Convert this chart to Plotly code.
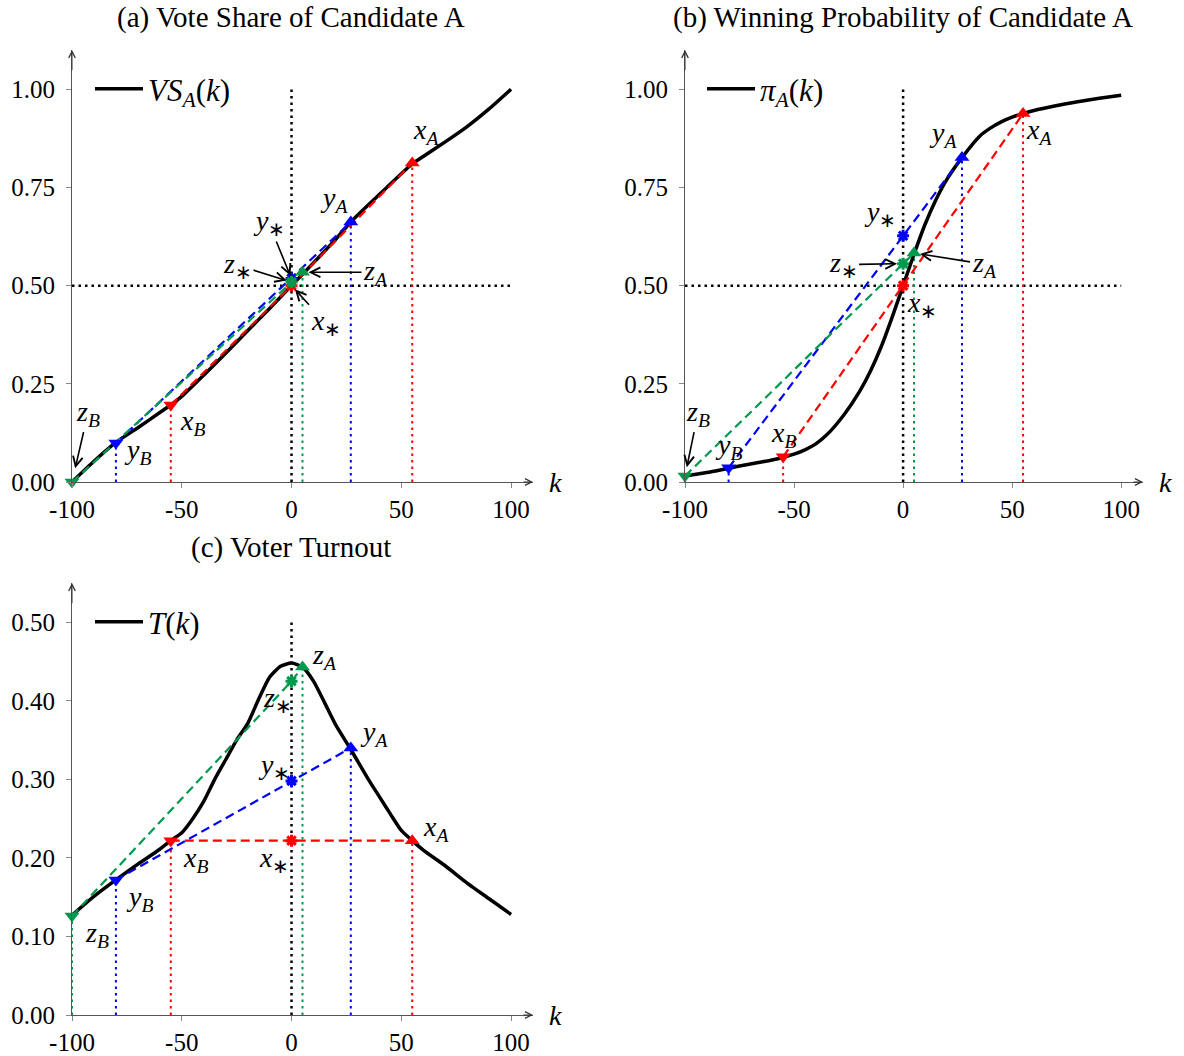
import plotly.graph_objects as go

# ---------------- data ----------------
k_ticks = [-100, -50, 0, 50, 100]
k_tick_labels = ["-100", "-50", "0", "50", "100"]
share_ticks = [0.0, 0.25, 0.5, 0.75, 1.0]
turnout_ticks = [0.0, 0.1, 0.2, 0.3, 0.4, 0.5]

k_vs = [-100, -90, -80, -70, -60, -55, -50, -40, -30, -20, -10, 0, 10, 20, 27, 40, 50, 55, 60, 70, 80, 90, 100]
vs_curve = [0.0, 0.053, 0.101, 0.138, 0.177, 0.196, 0.218, 0.272, 0.328, 0.385, 0.442, 0.5,
            0.558, 0.617, 0.662, 0.732, 0.785, 0.81, 0.829, 0.866, 0.905, 0.95, 1.0]

k_pi = [-100, -90, -80, -70, -60, -55, -50, -45, -40, -35, -27, -20, -15, -10, -5, 0,
        5, 10, 15, 20, 27, 35, 40, 45, 50, 55, 60, 70, 80, 90, 100]
pi_curve = [0.015, 0.024, 0.035, 0.046, 0.056, 0.063, 0.071, 0.082, 0.097, 0.12, 0.172, 0.23,
            0.282, 0.345, 0.42, 0.5, 0.58, 0.655, 0.718, 0.77, 0.826, 0.88, 0.901, 0.917, 0.929,
            0.938, 0.946, 0.958, 0.968, 0.977, 0.985]

k_t = [-100, -90, -80, -70, -60, -55, -50, -45, -40, -35, -30, -25, -20, -15, -10, -5, 0, 5, 10, 15,
       20, 27, 35, 40, 45, 50, 55, 60, 70, 80, 90, 100]
t_curve = [0.127, 0.151, 0.172, 0.192, 0.211, 0.222, 0.232, 0.25, 0.272, 0.30, 0.325, 0.35, 0.371,
           0.402, 0.43, 0.444, 0.448, 0.443, 0.425, 0.398, 0.37, 0.338, 0.30, 0.278, 0.256, 0.235,
           0.222, 0.21, 0.19, 0.168, 0.148, 0.128]

# points order: x, y, z
point_names = ["x", "y", "z"]
k_A = [55, 27, 5]
k_B = [-55, -80, -100]
vs_A = [0.812, 0.662, 0.534]
vs_B = [0.196, 0.099, 0.0]
vs_star = [0.50, 0.518, 0.509]
pi_A = [0.938, 0.826, 0.583]
pi_B = [0.064, 0.036, 0.015]
pi_star = [0.50, 0.627, 0.556]
t_A = [0.222, 0.340, 0.443]
t_B = [0.222, 0.172, 0.126]
t_star = [0.222, 0.298, 0.425]

titles = ["(a) Vote Share of Candidate A", "(b) Winning Probability of Candidate A", "(c) Voter Turnout"]
legend_names = ["<i>VS</i><sub><i>A</i></sub>(<i>k</i>)", "<i>π</i><sub><i>A</i></sub>(<i>k</i>)", "<i>T</i>(<i>k</i>)"]

# ---------------- style ----------------
W, H = 1184, 1056
FONT = "Liberation Serif"
colors = ["#ff0000", "#0000ff", "#00994d"]
DASH = "9px,5px"
DOT = "2.5px,4px"


def fx(px):
    return px / W


def fy(py):
    return 1 - py / H


# screen-pixel geometry of the three panels (left, right), (bottom, top)
panels = [
    dict(xa="x", ya="y", px=(72, 533), py=(482, 50), yr=(0, 1.1), yt=share_ticks),
    dict(xa="x2", ya="y2", px=(685, 1143), py=(482, 50), yr=(0, 1.1), yt=share_ticks),
    dict(xa="x3", ya="y3", px=(72, 533), py=(1015, 583), yr=(0, 0.55), yt=turnout_ticks),
]
XR = (-100, 110)

fig = go.Figure()

datasets = [
    (k_vs, vs_curve, vs_A, vs_B, vs_star, 1.0, True),
    (k_pi, pi_curve, pi_A, pi_B, pi_star, 1.0, True),
    (k_t, t_curve, t_A, t_B, t_star, 0.5, False),
]

legends = ["legend", "legend2", "legend3"]

for i, (kk, cc, A, B, S, vtop, hline) in enumerate(datasets):
    xa, ya = panels[i]["xa"], panels[i]["ya"]
    fig.add_trace(go.Scatter(x=[0, 0], y=[0, vtop], xaxis=xa, yaxis=ya, mode="lines",
                             line=dict(color="black", width=2.5, dash=DOT), showlegend=False,
                             hoverinfo="skip"))
    if hline:
        fig.add_trace(go.Scatter(x=[-100, 100], y=[0.5, 0.5], xaxis=xa, yaxis=ya, mode="lines",
                                 line=dict(color="black", width=2.5, dash=DOT), showlegend=False,
                                 hoverinfo="skip"))
    for j in range(3):
        for kv, vv in ((k_A[j], A[j]), (k_B[j], B[j])):
            fig.add_trace(go.Scatter(x=[kv, kv], y=[0, vv], xaxis=xa, yaxis=ya, mode="lines",
                                     line=dict(color=colors[j], width=2, dash=DOT),
                                     showlegend=False, hoverinfo="skip"))
    fig.add_trace(go.Scatter(x=kk, y=cc, xaxis=xa, yaxis=ya, mode="lines",
                             line=dict(color="black", width=3.5, shape="spline", smoothing=0.6),
                             name=legend_names[i], legend=legends[i], showlegend=True))
    for j in range(3):
        fig.add_trace(go.Scatter(x=[k_B[j], 0, k_A[j]], y=[B[j], S[j], A[j]], xaxis=xa, yaxis=ya,
                                 mode="lines", line=dict(color=colors[j], width=2.2, dash=DASH),
                                 showlegend=False, hoverinfo="skip"))
    for j in range(3):
        fig.add_trace(go.Scatter(x=[k_A[j]], y=[A[j]], xaxis=xa, yaxis=ya, mode="markers",
                                 marker=dict(symbol="triangle-up", size=13, color=colors[j]),
                                 showlegend=False, cliponaxis=False))
        fig.add_trace(go.Scatter(x=[k_B[j]], y=[B[j]], xaxis=xa, yaxis=ya, mode="markers",
                                 marker=dict(symbol="triangle-down", size=13, color=colors[j]),
                                 showlegend=False, cliponaxis=False))
        fig.add_trace(go.Scatter(x=[0], y=[S[j]], xaxis=xa, yaxis=ya, mode="markers",
                                 marker=dict(symbol="asterisk-open", size=10, color=colors[j],
                                             line=dict(color=colors[j], width=3)),
                                 showlegend=False, cliponaxis=False))

# ---------------- axes ----------------
axis_common = dict(showgrid=False, zeroline=False, showline=True, linecolor="#555", linewidth=1,
                   ticks="outside", ticklen=5, tickcolor="#888", tickwidth=1, automargin=False,
                   tickfont=dict(family=FONT, size=25, color="black"))
layout = {}
for i, p in enumerate(panels):
    n = "" if i == 0 else str(i + 1)
    xd = [fx(p["px"][0]), fx(p["px"][1])]
    yd = [fy(p["py"][0]), fy(p["py"][1])]
    layout["xaxis" + n] = dict(axis_common, domain=xd, range=list(XR), anchor=p["ya"],
                               tickvals=k_ticks, ticktext=k_tick_labels, ticklabelstandoff=0)
    layout["yaxis" + n] = dict(axis_common, domain=yd, range=list(p["yr"]), anchor=p["xa"],
                               tickvals=p["yt"], tickformat=".2f", ticklabelstandoff=6)
    layout["xaxis" + str(i + 4)] = dict(overlaying=p["xa"], anchor=p["ya"], range=list(XR),
                                        showgrid=False, zeroline=False, showline=False,
                                        automargin=False, ticks="inside", ticklen=5, tickcolor="#888",
                                        tickvals=k_ticks, showticklabels=False)
    layout["yaxis" + str(i + 4)] = dict(overlaying=p["ya"], anchor=p["xa"], range=list(p["yr"]),
                                        showgrid=False, zeroline=False, showline=False,
                                        automargin=False, ticks="inside", ticklen=5, tickcolor="#888",
                                        tickvals=p["yt"], showticklabels=False)

# ---------------- annotations ----------------
ann = []
lab_font = dict(family=FONT, size=28, color="black")
title_pos = [(291, 17), (903, 17), (291, 547)]
for t, (tx, ty) in zip(titles, title_pos):
    ann.append(dict(text=t, x=fx(tx), y=fy(ty), xref="paper", yref="paper", showarrow=False,
                    xanchor="center", yanchor="middle", font=dict(family=FONT, size=29, color="black")))

for i, p in enumerate(panels):
    xa, ya = p["xa"], p["ya"]
    ann.append(dict(x=XR[1], y=0, xref=xa, yref=ya, ax=XR[1] - 5, ay=0, axref=xa, ayref=ya,
                    text="", showarrow=True, arrowhead=5, arrowsize=1.3, arrowwidth=1, arrowcolor="#333"))
    ann.append(dict(x=XR[0], y=p["yr"][1], xref=xa, yref=ya, ax=XR[0], ay=p["yr"][1] * 0.95,
                    axref=xa, ayref=ya, text="", showarrow=True, arrowhead=5, arrowsize=1.3,
                    arrowwidth=1, arrowcolor="#333"))
    ann.append(dict(x=XR[1], y=0, xref=xa, yref=ya, text="<i>k</i>", showarrow=False,
                    xanchor="left", yanchor="middle", xshift=14, font=lab_font))


def sym(letter, sub):
    return "<i>%s</i><sub>%s</sub>" % (letter, sub)


# labels: (panel, which set, index, dx, dy, arrow, standoff)
label_specs = [
    (0, "A", 0, 14, -32, False, 0), (0, "A", 1, -17, -23, False, 0), (0, "A", 2, 73, 0, True, 6),
    (0, "B", 0, 22, 17, False, 0), (0, "B", 1, 22, 8, False, 0), (0, "B", 2, 16, -69, True, 14),
    (0, "S", 0, 34, 37, True, 5), (0, "S", 1, -23, -56, True, 3), (0, "S", 2, -54, -17, True, 5),
    (1, "A", 0, 16, 18, False, 0), (1, "A", 1, -19, -23, False, 0), (1, "A", 2, 70, 11, True, 6),
    (1, "B", 0, 0, -22, False, 0), (1, "B", 1, 0, -21, False, 0), (1, "B", 2, 13, -63, True, 9),
    (1, "S", 0, 19, 19, False, 0), (1, "S", 1, -23, -22, False, 0), (1, "S", 2, -60, 1, True, 6),
    (2, "A", 0, 24, -12, False, 0), (2, "A", 1, 23, -14, False, 0), (2, "A", 2, 22, -11, False, 0),
    (2, "B", 0, 25, 19, False, 0), (2, "B", 1, 24, 19, False, 0), (2, "B", 2, 25, 18, False, 0),
    (2, "S", 0, -18, 19, False, 0), (2, "S", 1, -18, -14, False, 0), (2, "S", 2, -14, 18, False, 0),
]
for (pi_, st, j, dx, dy, arrow, so) in label_specs:
    A, B, S = datasets[pi_][2], datasets[pi_][3], datasets[pi_][4]
    if st == "A":
        kx, vy, sub = k_A[j], A[j], "<i>A</i>"
    elif st == "B":
        kx, vy, sub = k_B[j], B[j], "<i>B</i>"
    else:
        kx, vy, sub = 0, S[j], "∗"
    xa, ya = panels[pi_]["xa"], panels[pi_]["ya"]
    txt = sym(point_names[j], sub)
    if arrow:
        ann.append(dict(x=kx, y=vy, xref=xa, yref=ya, text=txt, showarrow=True, ax=dx, ay=dy,
                        arrowhead=5, arrowsize=1.2, arrowwidth=1.6, arrowcolor="black",
                        standoff=so, font=lab_font))
    else:
        ann.append(dict(x=kx, y=vy, xref=xa, yref=ya, text=txt, showarrow=False,
                        xshift=dx, yshift=-dy, font=lab_font))

leg_pos = [(90, 89), (702, 89), (90, 622)]
for i, (lx, ly) in enumerate(leg_pos):
    layout[legends[i]] = dict(x=fx(lx), y=fy(ly), xanchor="left", yanchor="middle", itemwidth=48,
                              bgcolor="rgba(0,0,0,0)", font=dict(family=FONT, size=31, color="black"))

fig.update_layout(template="none", width=W, height=H, margin=dict(l=0, r=0, t=0, b=0),
                  plot_bgcolor="white", paper_bgcolor="white", annotations=ann,
                  font=dict(family=FONT), **layout)

fig.write_html("out.html", config={"displayModeBar": False},
               post_script="document.body.style.margin='0px';")
